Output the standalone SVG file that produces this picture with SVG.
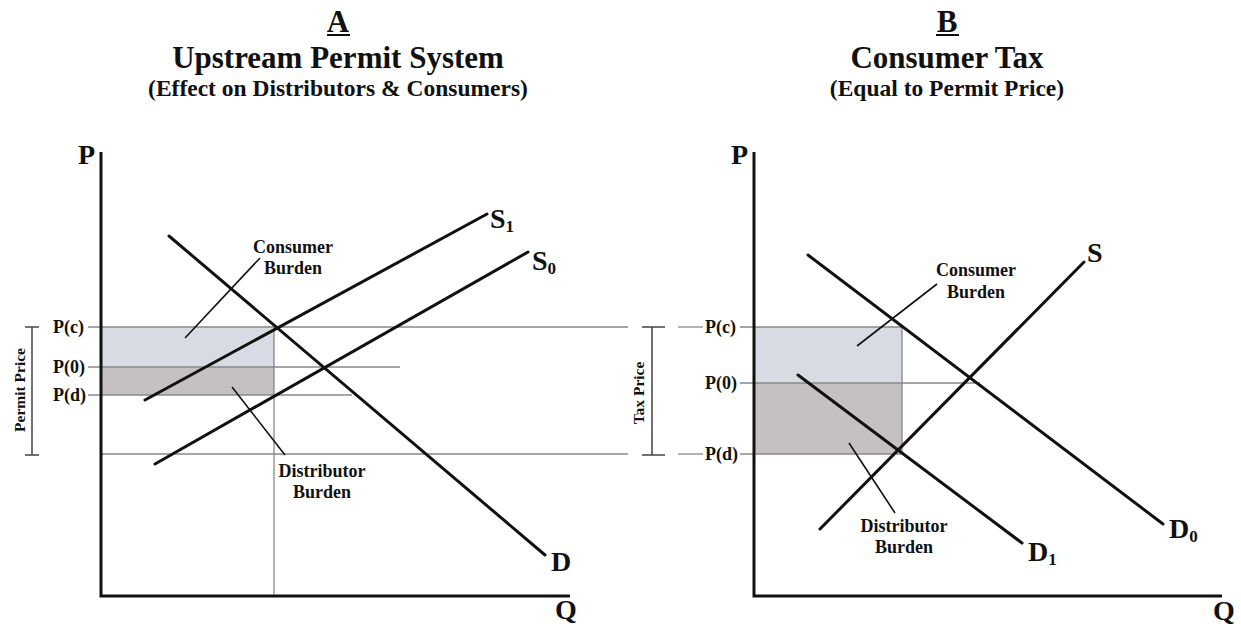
<svg xmlns="http://www.w3.org/2000/svg" width="1241" height="627" viewBox="0 0 1241 627">
<style>
text{font-family:"Liberation Serif","Times New Roman",serif;font-weight:bold;fill:#111}
.t1{font-size:31px;text-anchor:middle}
.t2{font-size:23.5px;text-anchor:middle}
.ax{font-size:28px}
.lbl{font-size:18px}
.bur{font-size:18px;text-anchor:middle}
.rot{font-size:15.5px;text-anchor:middle}
.cv{stroke:#111;stroke-width:3;fill:none;stroke-linecap:round}
.axis{stroke:#111;stroke-width:3;fill:none}
.thin{stroke:#888;stroke-width:1.3;fill:none}
.lead{stroke:#111;stroke-width:1.6;fill:none}
.brk{stroke:#444;stroke-width:1.5;fill:none}
.light{fill:#d8dbe3}
.dark{fill:#c5c1c2}
</style>
<g id="titleA">
<text class="t1" x="338" y="32">A</text>
<line x1="327" y1="35" x2="350" y2="35" stroke="#111" stroke-width="2"/>
<text class="t1" x="338" y="68">Upstream Permit System</text>
<text class="t2" x="338" y="96">(Effect on Distributors &amp; Consumers)</text>
</g>
<g id="titleB">
<text class="t1" x="947" y="32">B</text>
<line x1="936" y1="35" x2="959" y2="35" stroke="#111" stroke-width="2"/>
<text class="t1" x="947" y="68">Consumer Tax</text>
<text class="t2" x="947" y="96">(Equal to Permit Price)</text>
</g>
<g id="areasA">
<rect class="light" x="101" y="327" width="173" height="40"/>
<rect class="dark" x="101" y="367" width="173" height="28"/>
</g>
<g id="areasB">
<rect class="light" x="754" y="327" width="148" height="56"/>
<rect class="dark" x="754" y="383" width="148" height="71"/>
</g>
<g id="connectors">
<line class="thin" x1="88" y1="327" x2="628" y2="327"/>
<line class="thin" x1="88" y1="367" x2="400" y2="367"/>
<line class="thin" x1="88" y1="395" x2="352" y2="395"/>
<line class="thin" x1="101" y1="454" x2="628" y2="454"/>
<line class="thin" x1="274" y1="327" x2="274" y2="596"/>
<line class="thin" x1="678" y1="327" x2="703" y2="327"/>
<line class="thin" x1="678" y1="454" x2="703" y2="454"/>
<line class="thin" x1="740" y1="327" x2="902" y2="327"/>
<line class="thin" x1="740" y1="383" x2="980" y2="383"/>
<line class="thin" x1="740" y1="454" x2="902" y2="454"/>
<line class="thin" x1="902" y1="327" x2="902" y2="454"/>
<path class="brk" d="M25 327H39M32 327V455M25 455H39"/>
<path class="brk" d="M642 327H665M652 327V455M642 455H665"/>
<line class="lead" x1="260" y1="258" x2="185" y2="338"/>
<line class="lead" x1="232" y1="387" x2="285" y2="455"/>
<line class="lead" x1="857" y1="346" x2="937" y2="284"/>
<line class="lead" x1="849" y1="443" x2="895" y2="513"/>
</g>
<g id="axesA">
<path class="axis" d="M101 152V596H570"/>
<text class="ax" x="78" y="164">P</text>
<text class="ax" x="555" y="619">Q</text>
</g>
<g id="axesB">
<path class="axis" d="M754 152V596H1222"/>
<text class="ax" x="731" y="164">P</text>
<text class="ax" x="1213" y="620">Q</text>
</g>
<g id="curvesA">
<line class="cv" x1="169" y1="236" x2="545" y2="555"/>
<line class="cv" x1="145" y1="400" x2="487" y2="214"/>
<line class="cv" x1="155" y1="464" x2="528" y2="252"/>
<text class="ax" x="490" y="228">S<tspan font-size="17" dy="4">1</tspan></text>
<text class="ax" x="532" y="270">S<tspan font-size="17" dy="4">0</tspan></text>
<text class="ax" x="551" y="571">D</text>
</g>
<g id="curvesB">
<line class="cv" x1="820" y1="529" x2="1084" y2="262"/>
<line class="cv" x1="808" y1="255" x2="1163" y2="524"/>
<line class="cv" x1="798" y1="375" x2="1022" y2="543"/>
<text class="ax" x="1087" y="262">S</text>
<text class="ax" x="1169" y="538">D<tspan font-size="17" dy="4">0</tspan></text>
<text class="ax" x="1028" y="561">D<tspan font-size="17" dy="4">1</tspan></text>
</g>
<g id="labelsA">
<text class="lbl" x="53" y="333">P(c)</text>
<text class="lbl" x="53" y="373">P(0)</text>
<text class="lbl" x="53" y="401">P(d)</text>
<text class="bur" x="293" y="253">Consumer</text>
<text class="bur" x="293" y="274">Burden</text>
<text class="bur" x="322" y="477">Distributor</text>
<text class="bur" x="322" y="498">Burden</text>
<text class="rot" transform="translate(25 390) rotate(-90)">Permit Price</text>
</g>
<g id="labelsB">
<text class="lbl" x="705" y="333">P(c)</text>
<text class="lbl" x="705" y="389">P(0)</text>
<text class="lbl" x="705" y="460">P(d)</text>
<text class="bur" x="976" y="276">Consumer</text>
<text class="bur" x="976" y="298">Burden</text>
<text class="bur" x="904" y="532">Distributor</text>
<text class="bur" x="904" y="553">Burden</text>
<text class="rot" transform="translate(644 393) rotate(-90)">Tax Price</text>
</g>
</svg>
